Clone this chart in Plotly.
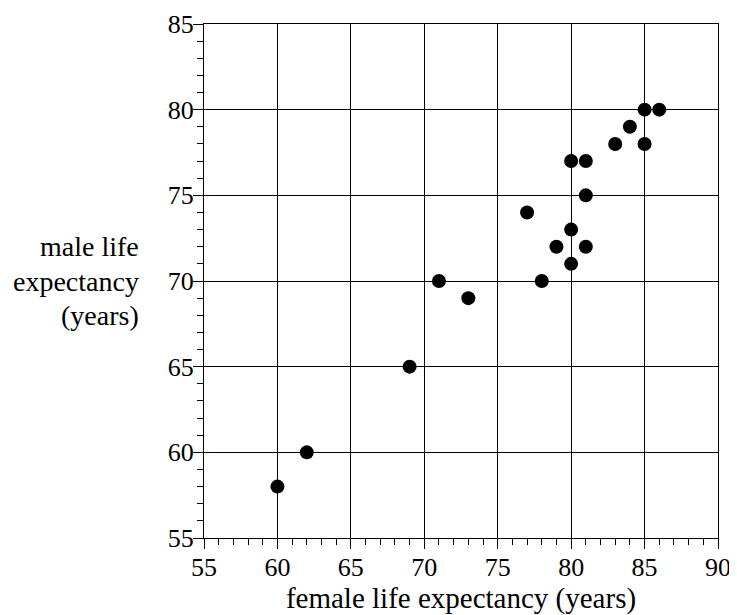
import plotly.graph_objects as go

female = [60, 62, 69, 71, 73, 77, 78, 79, 80, 80, 80, 81, 81, 81, 83, 84, 85, 85, 86]
male = [58, 60, 65, 70, 69, 74, 70, 72, 71, 73, 77, 72, 75, 77, 78, 79, 78, 80, 80]

x_title = "female life expectancy (years)"
y_title_lines = ["male life", "expectancy", "(years)"]

FONT = "Liberation Serif, Times New Roman, serif"

fig = go.Figure()
fig.add_trace(go.Scatter(
    x=female, y=male, mode="markers",
    marker=dict(size=14, color="black"),
    showlegend=False, cliponaxis=False,
))

axis_common = dict(
    showgrid=True, gridcolor="black", gridwidth=1,
    showline=True, linecolor="black", linewidth=1, mirror=True,
    zeroline=False, ticks="outside", ticklen=10, tickwidth=1, tickcolor="black",
    dtick=5, tickfont=dict(family=FONT, size=26, color="black"),
    minor=dict(dtick=1, ticks="outside", ticklen=6, tickcolor="black", tickwidth=1, showgrid=False),
    automargin=False, ticklabeloverflow="allow",
)

fig.update_xaxes(range=[55, 90], tick0=55, ticklabelstandoff=-4,
                 title=dict(text=x_title, font=dict(family=FONT, size=29, color="black"), standoff=2),
                 **axis_common)
fig.update_yaxes(range=[55, 85], tick0=55, ticklabelstandoff=-6, **axis_common)

for line, shift in zip(y_title_lines, [35, 0, -34]):
    fig.add_annotation(
        text=line, xref="paper", yref="y", x=-0.122, y=70.0, yshift=shift,
        xanchor="right", yanchor="middle", align="right", showarrow=False,
        font=dict(family=FONT, size=28, color="black"),
    )

fig.update_layout(
    width=729, height=607,
    margin=dict(l=196, r=19, t=16, b=77),
    plot_bgcolor="white", paper_bgcolor="white",
    font=dict(family=FONT, color="black"),
)

fig.write_html("out.html")
